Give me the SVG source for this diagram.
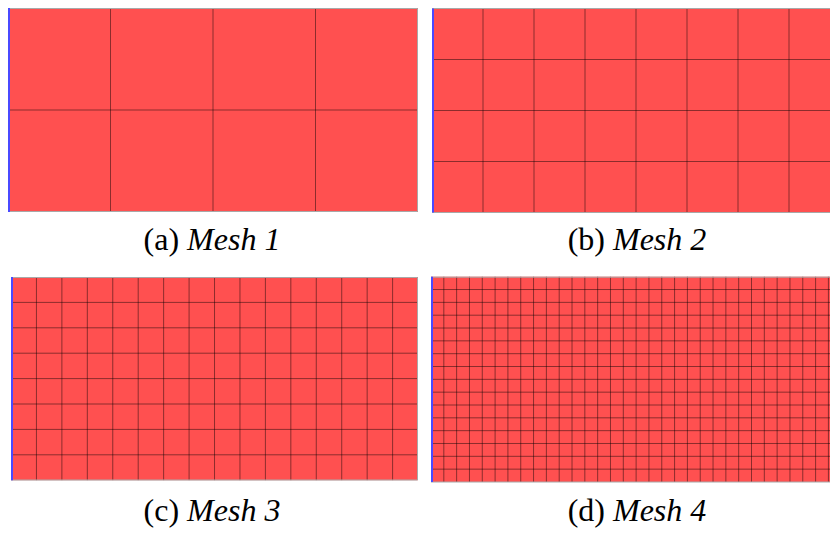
<svg xmlns="http://www.w3.org/2000/svg" width="830" height="538" viewBox="0 0 830 538">
<style>
.cell{fill:#ff5050}
.grid{fill:none;stroke:#000;stroke-opacity:0.45;stroke-width:1}
.frame{fill:none;stroke:#a8a8a8;stroke-width:1}
.edge{stroke:#4a4aff;stroke-width:2}
.cap{font-family:'Liberation Serif','Times New Roman',serif;font-size:32px;fill:#000;text-anchor:middle}
.it{font-style:italic}
</style>
<rect width="830" height="538" fill="#fff"/>
<g id="mesh1">
<rect class="cell" x="8" y="8" width="410" height="204"/>
<path class="grid" d="M110.5 8V212M213 8V212M315.5 8V212M8 110H418"/>
<path class="frame" d="M8 8.5H417.5V211.5H8"/>
<line class="edge" x1="9" y1="8" x2="9" y2="212"/>
</g>
<g id="mesh2">
<rect class="cell" x="432" y="8.5" width="398" height="204"/>
<path class="grid" d="M483 8.5V212.5M534 8.5V212.5M585 8.5V212.5M636 8.5V212.5M687 8.5V212.5M738 8.5V212.5M789 8.5V212.5M432 59.5H830M432 110.5H830M432 161.5H830"/>
<path class="frame" d="M432 8.5H830M432 212.5H830"/>
<line class="edge" x1="433" y1="8.5" x2="433" y2="212.5"/>
</g>
<g id="mesh3">
<rect class="cell" x="11" y="277" width="407" height="203.2"/>
<path class="grid" d="M36.44 277V480.2M61.88 277V480.2M87.32 277V480.2M112.76 277V480.2M138.2 277V480.2M163.64 277V480.2M189.08 277V480.2M214.52 277V480.2M239.96 277V480.2M265.4 277V480.2M290.84 277V480.2M316.28 277V480.2M341.72 277V480.2M367.16 277V480.2M392.6 277V480.2M11 302.4H418M11 327.8H418M11 353.2H418M11 378.6H418M11 404H418M11 429.4H418M11 454.8H418"/>
<path class="frame" d="M11 277.5H417.5V480H11"/>
<line class="edge" x1="12" y1="277" x2="12" y2="480.2"/>
</g>
<g id="mesh4">
<rect class="cell" x="431" y="276.7" width="399" height="205.3"/>
<path class="grid" d="M443.82 276.7V482M456.64 276.7V482M469.46 276.7V482M482.28 276.7V482M495.1 276.7V482M507.92 276.7V482M520.74 276.7V482M533.56 276.7V482M546.38 276.7V482M559.2 276.7V482M572.02 276.7V482M584.84 276.7V482M597.66 276.7V482M610.48 276.7V482M623.3 276.7V482M636.12 276.7V482M648.94 276.7V482M661.76 276.7V482M674.58 276.7V482M687.4 276.7V482M700.22 276.7V482M713.04 276.7V482M725.86 276.7V482M738.68 276.7V482M751.5 276.7V482M764.32 276.7V482M777.14 276.7V482M789.96 276.7V482M802.78 276.7V482M815.6 276.7V482M828.42 276.7V482M431 289.53H830M431 302.36H830M431 315.19H830M431 328.02H830M431 340.85H830M431 353.68H830M431 366.51H830M431 379.34H830M431 392.17H830M431 405H830M431 417.83H830M431 430.66H830M431 443.49H830M431 456.32H830M431 469.15H830"/>
<path class="frame" d="M431 277.2H830M431 482H830"/>
<line class="edge" x1="432" y1="276.7" x2="432" y2="482"/>
</g>
<g id="captions">
<text class="cap" x="212" y="250">(a) <tspan class="it">Mesh 1</tspan></text>
<text class="cap" x="637" y="250">(b) <tspan class="it">Mesh 2</tspan></text>
<text class="cap" x="212" y="521">(c) <tspan class="it">Mesh 3</tspan></text>
<text class="cap" x="637" y="521">(d) <tspan class="it">Mesh 4</tspan></text>
</g>
</svg>
